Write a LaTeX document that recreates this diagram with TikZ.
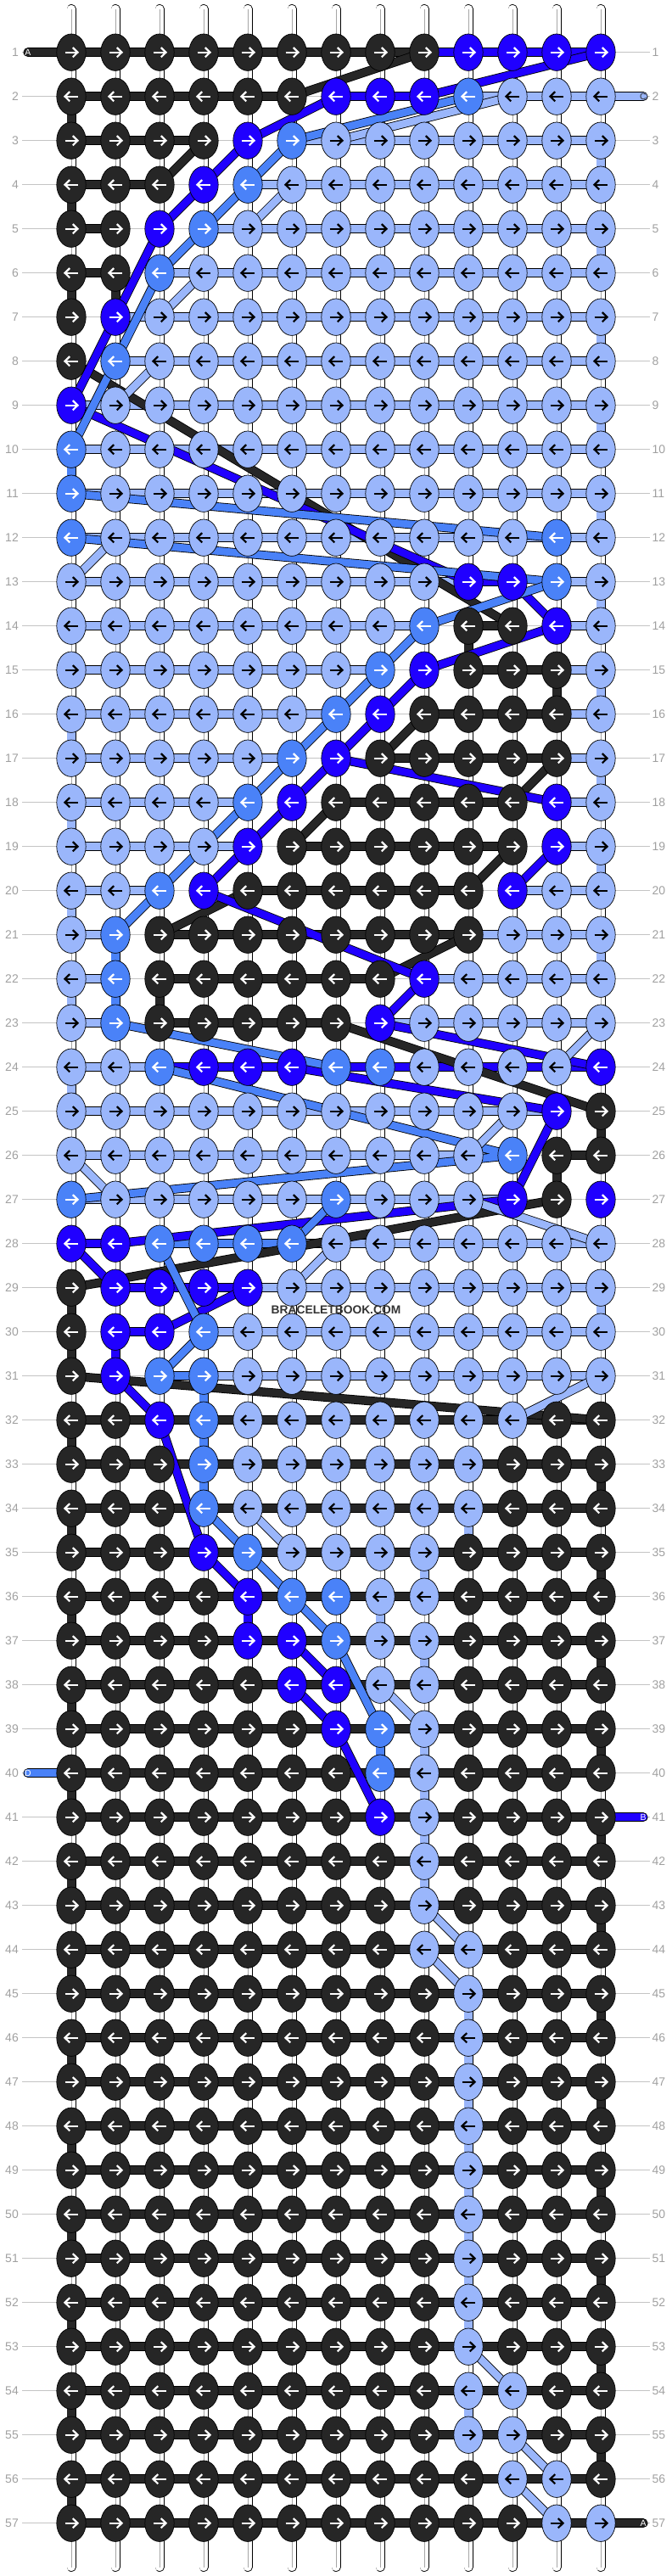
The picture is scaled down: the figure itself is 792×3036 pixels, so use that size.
\documentclass[tikz,border=0pt]{standalone}
\usepackage{fontspec}
\setmainfont{Liberation Sans}
\usepackage{ifthen}
\usetikzlibrary{shapes.geometric}
\definecolor{cD}{HTML}{262626}
\definecolor{cB}{HTML}{2000FF}
\definecolor{cM}{HTML}{4A82F8}
\definecolor{cL}{HTML}{9AB6FB}
\definecolor{lab}{HTML}{A0A0A0}
\definecolor{rulec}{HTML}{C4C4C4}
\definecolor{wmc}{HTML}{333333}
\def\rowdata{%
1/{D,D,D,D,D,D,D,D,D,B,B,B,B},
2/{D,D,D,D,D,D,B,B,B,M,L,L,L},
3/{D,D,D,D,B,M,L,L,L,L,L,L,L},
4/{D,D,D,B,M,L,L,L,L,L,L,L,L},
5/{D,D,B,M,L,L,L,L,L,L,L,L,L},
6/{D,D,M,L,L,L,L,L,L,L,L,L,L},
7/{D,B,L,L,L,L,L,L,L,L,L,L,L},
8/{D,M,L,L,L,L,L,L,L,L,L,L,L},
9/{B,L,L,L,L,L,L,L,L,L,L,L,L},
10/{M,L,L,L,L,L,L,L,L,L,L,L,L},
11/{M,L,L,L,L,L,L,L,L,L,L,L,L},
12/{M,L,L,L,L,L,L,L,L,L,L,M,L},
13/{L,L,L,L,L,L,L,L,L,B,B,M,L},
14/{L,L,L,L,L,L,L,L,M,D,D,B,L},
15/{L,L,L,L,L,L,L,M,B,D,D,D,L},
16/{L,L,L,L,L,L,M,B,D,D,D,D,L},
17/{L,L,L,L,L,M,B,D,D,D,D,D,L},
18/{L,L,L,L,M,B,D,D,D,D,D,B,L},
19/{L,L,L,L,B,D,D,D,D,D,D,B,L},
20/{L,L,M,B,D,D,D,D,D,D,B,L,L},
21/{L,M,D,D,D,D,D,D,D,D,L,L,L},
22/{L,M,D,D,D,D,D,D,B,L,L,L,L},
23/{L,M,D,D,D,D,D,B,L,L,L,L,L},
24/{L,L,M,B,B,B,M,M,L,L,L,L,B},
25/{L,L,L,L,L,L,L,L,L,L,L,B,D},
26/{L,L,L,L,L,L,L,L,L,L,M,D,D},
27/{M,L,L,L,L,L,M,L,L,L,B,D,B},
28/{B,B,M,M,M,M,L,L,L,L,L,L,L},
29/{D,B,B,B,B,L,L,L,L,L,L,L,L},
30/{D,B,B,M,L,L,L,L,L,L,L,L,L},
31/{D,B,M,M,L,L,L,L,L,L,L,L,L},
32/{D,D,B,M,L,L,L,L,L,L,L,D,D},
33/{D,D,D,M,L,L,L,L,L,L,D,D,D},
34/{D,D,D,M,L,L,L,L,L,L,D,D,D},
35/{D,D,D,B,M,L,L,L,L,D,D,D,D},
36/{D,D,D,D,B,M,M,L,L,D,D,D,D},
37/{D,D,D,D,B,B,M,L,L,D,D,D,D},
38/{D,D,D,D,D,B,B,L,L,D,D,D,D},
39/{D,D,D,D,D,D,B,M,L,D,D,D,D},
40/{D,D,D,D,D,D,D,M,L,D,D,D,D},
41/{D,D,D,D,D,D,D,B,L,D,D,D,D},
42/{D,D,D,D,D,D,D,D,L,D,D,D,D},
43/{D,D,D,D,D,D,D,D,L,D,D,D,D},
44/{D,D,D,D,D,D,D,D,L,L,D,D,D},
45/{D,D,D,D,D,D,D,D,D,L,D,D,D},
46/{D,D,D,D,D,D,D,D,D,L,D,D,D},
47/{D,D,D,D,D,D,D,D,D,L,D,D,D},
48/{D,D,D,D,D,D,D,D,D,L,D,D,D},
49/{D,D,D,D,D,D,D,D,D,L,D,D,D},
50/{D,D,D,D,D,D,D,D,D,L,D,D,D},
51/{D,D,D,D,D,D,D,D,D,L,D,D,D},
52/{D,D,D,D,D,D,D,D,D,L,D,D,D},
53/{D,D,D,D,D,D,D,D,D,L,D,D,D},
54/{D,D,D,D,D,D,D,D,D,L,L,D,D},
55/{D,D,D,D,D,D,D,D,D,L,L,D,D},
56/{D,D,D,D,D,D,D,D,D,D,L,L,D},
57/{D,D,D,D,D,D,D,D,D,D,D,L,L}}
\newcommand\strand[2]{%
  \draw[line width=10.5pt,black,line join=round] #2;
  \draw[line width=8.8pt,c#1,line join=round] #2;}
\begin{document}
\begin{tikzpicture}[x=1pt,y=-1pt,
  knot/.style={ellipse,draw=black,line width=0.7pt,minimum width=34.4pt,minimum height=43.4pt,inner sep=0pt},
  lbl/.style={text=lab,font=\fontsize{14}{14}\selectfont,inner sep=0pt},
  endlbl/.style={font=\fontsize{10.5}{10.5}\selectfont,inner sep=0pt},
  barout/.style={line width=10.5pt,black},
  vout/.style={line width=11pt,black},
  arrowmark/.style={line width=2.2pt}]
\useasboundingbox (0,0) rectangle (792,3036);
\foreach \r in {1,...,57}{\foreach \c in {1,...,13}{%
  \coordinate (p-\r-\c) at ({84+52*(\c-1)},{61.7+52*(\r-1)});}}
% row guide lines and numbers
\foreach \r in {1,...,57}{%
  \coordinate (gl-\r) at (26,{61.7+52*(\r-1)});
  \coordinate (gr-\r) at (766,{61.7+52*(\r-1)});
  \draw[rulec,line width=1pt] (gl-\r) -- (gr-\r);
  \node[lbl,anchor=east] (ll-\r) at (22,{61.7+52*(\r-1)}) {\r};
  \node[lbl,anchor=west] (rl-\r) at (768.5,{61.7+52*(\r-1)}) {\r};
}
% warp strings
\foreach \c in {1,...,13}{%
  \coordinate (wt-\c) at ({84+52*(\c-1)},10.5);
  \coordinate (wb-\c) at ({84+52*(\c-1)},3025.5);
  \draw[line width=11pt,black,line cap=round] (wt-\c)--(wb-\c);
  \draw[line width=9.4pt,white,line cap=round] (wt-\c)--(wb-\c);
  \draw[line width=0.9pt,black!35] (wt-\c)--(wb-\c);
}
% horizontal bars
\foreach \r/\rw in \rowdata{%
  \foreach \c [count=\i, remember=\c as \pc (initially X)] in \rw{%
    \ifnum\i>1
      \pgfmathtruncatemacro\j{\i-1}%
      \def\bc{none}%
      \ifnum\r>31 \def\bc{cD}\else
        \ifthenelse{\equal{\c}{\pc}}{\def\bc{c\c}}{%
          \ifthenelse{\equal{\c}{L}\OR\equal{\pc}{L}}{\def\bc{cL}}{}}%
      \fi
      \ifnum\r=1 \ifnum\i=10 \def\bc{cB}\fi\fi
      \ifnum\r=24 \ifnum\i>3 \def\bc{cB}\fi\fi
      \ifthenelse{\equal{\bc}{none}}{}{%
        \draw[barout] (p-\r-\j)--(p-\r-\i);
        \draw[line width=8.8pt,\bc] (p-\r-\j)--(p-\r-\i);}%
    \fi
  }
}
% coloured vertical segments
\foreach \c/\r/\k in {1/2/D,1/4/D,1/6/D,13/3/L,13/5/L,13/7/L,2/6/D,
  1/10/M,13/9/L,13/11/L,13/13/L,
  10/14/D,12/15/D,1/16/L,1/18/L,1/20/L,13/15/L,13/17/L,13/19/L,2/21/M,13/21/L,
  2/22/M,3/22/D,1/22/L,1/24/L,13/25/D,12/26/D,
  1/29/D,1/30/D,1/32/D,1/34/D,2/30/B,4/31/M,4/32/M,4/33/M,13/29/L,13/33/D,10/34/L,9/35/L,
  1/36/D,1/38/D,1/40/D,1/42/D,13/35/D,13/37/D,13/39/D,13/41/D,5/36/B,8/36/L,9/37/L,9/39/L,9/40/L,9/41/L,8/39/M,
  9/42/L,1/44/D,1/46/D,1/48/D,13/43/D,13/45/D,13/47/D,10/45/L,10/46/L,10/47/L,10/48/L,10/49/L,
  1/50/D,1/52/D,1/54/D,1/56/D,13/49/D,13/51/D,13/53/D,13/55/D,10/50/L,10/51/L,10/52/L,10/54/L}{%
  \pgfmathtruncatemacro\rn{\r+1}%
  \draw[vout] (p-\r-\c)--(p-\rn-\c);
  \draw[line width=9.4pt,c\k] (p-\r-\c)--(p-\rn-\c);
}
% loose ends
\coordinate (e1) at (33,61.7);
\coordinate (e2) at (758,113.7);
\coordinate (e40) at (33,2089.7);
\coordinate (e41) at (758,2141.7);
\coordinate (e57) at (758,2973.7);
\draw[line width=11pt,black,line cap=round] (e1)--(p-1-1);
\draw[line width=9.4pt,cD,line cap=round] (e1)--(p-1-1);
\draw[line width=11pt,black,line cap=round] (e2)--(p-2-13);
\draw[line width=9.4pt,cL,line cap=round] (e2)--(p-2-13);
\draw[line width=11pt,black,line cap=round] (e40)--(p-40-1);
\draw[line width=9.4pt,cM,line cap=round] (e40)--(p-40-1);
\draw[line width=11pt,black,line cap=round] (e41)--(p-41-13);
\draw[line width=9.4pt,cB,line cap=round] (e41)--(p-41-13);
\draw[line width=11pt,black,line cap=round] (e57)--(p-57-13);
\draw[line width=9.4pt,cD,line cap=round] (e57)--(p-57-13);
\node[endlbl,text=white] (n1) at (e1) {A};
\node[endlbl,text=wmc] (n2) at (e2) {C};
\node[endlbl,text=white] (n40) at (e40) {D};
\node[endlbl,text=white] (n41) at (e41) {B};
\node[endlbl,text=white] (n57) at (e57) {A};
% strands travelling between knots
\strand{D}{(p-2-6)--(p-1-9)}
\strand{D}{(p-4-3)--(p-3-4)}
\strand{D}{(p-8-1)--(p-14-11)}
\strand{D}{(p-16-9)--(p-17-8)}
\strand{D}{(p-17-12)--(p-18-11)}
\strand{D}{(p-18-7)--(p-19-6)}
\strand{D}{(p-19-11)--(p-20-10)}
\strand{D}{(p-20-5)--(p-21-3)}
\strand{D}{(p-21-10)--(p-22-8)}
\strand{D}{(p-23-7)--(p-25-13)}
\strand{D}{(p-27-12)--(p-29-1)}
\strand{D}{(p-31-1)--(p-32-13)}
\strand{B}{(p-1-13)--(p-2-9)}
\strand{B}{(p-2-7)--(p-3-5)--(p-4-4)--(p-5-3)--(p-7-2)--(p-9-1)}
\strand{B}{(p-9-1)--(p-13-10)}
\strand{B}{(p-13-11)--(p-14-12)--(p-15-9)--(p-16-8)--(p-17-7)--(p-18-6)--(p-19-5)--(p-20-4)--(p-22-9)--(p-23-8)--(p-24-13)}
\strand{B}{(p-17-7)--(p-18-12)}
\strand{B}{(p-19-12)--(p-20-11)}
\strand{B}{(p-24-6)--(p-25-12)--(p-27-11)--(p-28-2)}
\strand{B}{(p-28-1)--(p-29-2)}
\strand{B}{(p-29-5)--(p-30-3)}
\strand{B}{(p-31-2)--(p-32-3)--(p-35-4)--(p-36-5)}
\strand{B}{(p-37-6)--(p-38-7)}
\strand{B}{(p-38-6)--(p-39-7)--(p-41-8)}
\strand{M}{(p-2-10)--(p-3-6)--(p-4-5)--(p-5-4)--(p-6-3)--(p-8-2)--(p-10-1)}
\strand{M}{(p-11-1)--(p-12-12)}
\strand{M}{(p-12-1)--(p-13-12)}
\strand{M}{(p-14-9)--(p-13-12)}
\strand{M}{(p-14-9)--(p-15-8)--(p-16-7)--(p-17-6)--(p-18-5)--(p-20-3)--(p-21-2)}
\strand{M}{(p-23-2)--(p-24-7)}
\strand{M}{(p-24-3)--(p-26-11)--(p-27-1)}
\strand{M}{(p-27-7)--(p-28-6)}
\strand{M}{(p-28-3)--(p-30-4)--(p-31-3)}
\strand{M}{(p-34-4)--(p-35-5)--(p-36-6)--(p-37-7)--(p-39-8)}
\strand{L}{(p-2-11)--(p-3-7)}
\strand{L}{(p-4-6)--(p-5-5)}
\strand{L}{(p-6-4)--(p-7-3)}
\strand{L}{(p-8-3)--(p-9-2)}
\strand{L}{(p-12-2)--(p-13-1)}
\strand{L}{(p-24-12)--(p-23-13)}
\strand{L}{(p-25-11)--(p-26-10)}
\strand{L}{(p-26-1)--(p-27-2)}
\strand{L}{(p-27-10)--(p-28-13)}
\strand{L}{(p-28-7)--(p-29-6)}
\strand{L}{(p-31-13)--(p-32-11)}
\strand{L}{(p-34-5)--(p-35-6)}
\strand{L}{(p-38-8)--(p-39-9)}
\strand{L}{(p-43-9)--(p-44-10)}
\strand{L}{(p-44-9)--(p-45-10)}
\strand{L}{(p-53-10)--(p-54-11)}
\strand{L}{(p-55-11)--(p-56-12)}
\strand{L}{(p-56-11)--(p-57-12)}
% knots
\foreach \r/\rw in \rowdata{%
  \foreach \c [count=\i] in \rw{%
    \node[knot,fill=c\c] (k-\r-\i) at (p-\r-\i) {};
    \ifthenelse{\equal{\c}{L}}{\def\ac{black}}{\def\ac{white}}%
    \ifodd\r \def\sg{1}\else\def\sg{-1}\fi
    \draw[\ac,arrowmark] (k-\r-\i.center) ++({-7.5*(\sg)},0) -- ++({15*(\sg)},0);
    \draw[\ac,arrowmark,line join=miter] (k-\r-\i.center) ++({1.8*(\sg)},-5.6) -- ++({5.7*(\sg)},5.6) -- ++({-5.7*(\sg)},5.6);
  }
}
\node[font=\fontsize{13.8}{14}\selectfont\bfseries,text=wmc,inner sep=0pt] (wm) at (396,1543.5) {BRACELETBOOK.COM};
\end{tikzpicture}
\end{document}
